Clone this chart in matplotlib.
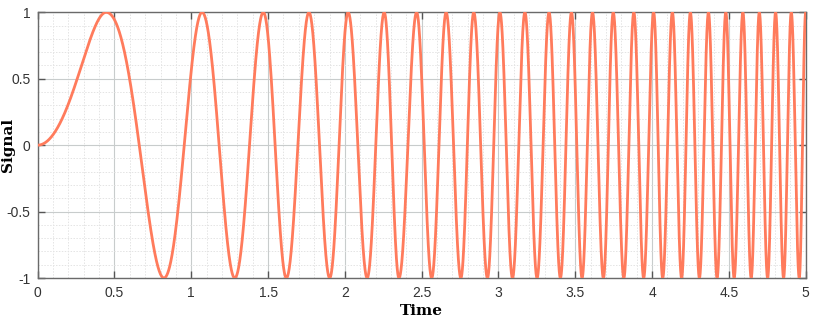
import numpy as np
import matplotlib
matplotlib.use("Agg")
import matplotlib.pyplot as plt
from matplotlib.ticker import MultipleLocator, FormatStrFormatter

# times of the maxima (+1) and minima (-1)
peak_times = [0.446, 1.070, 1.469, 1.766, 2.021, 2.256, 2.467, 2.659, 2.839,
              3.009, 3.172, 3.329, 3.475, 3.612, 3.747, 3.881, 4.010, 4.132,
              4.249, 4.367, 4.480, 4.591, 4.698, 4.804, 4.906, 5.000]
trough_times = [0.822, 1.283, 1.619, 1.901, 2.145, 2.352, 2.565, 2.755, 2.928,
                3.091, 3.251, 3.403, 3.544, 3.683, 3.816, 3.945, 4.069, 4.192,
                4.308, 4.423, 4.534, 4.645, 4.752, 4.856, 4.958]
x_ticks = [0, 0.5, 1, 1.5, 2, 2.5, 3, 3.5, 4, 4.5, 5]
y_ticks = [-1, -0.5, 0, 0.5, 1]

# signal starts at zero, then each extremum is a half turn further on
ext_t = np.sort(np.array([0.0] + peak_times + trough_times))
ext_phase = np.pi / 2 * np.r_[0, 1 + 2 * np.arange(len(ext_t) - 1)]
t = np.linspace(0, 5, 6000)
signal = np.sin(np.interp(t ** 2, ext_t ** 2, ext_phase))

plt.rcParams["axes.unicode_minus"] = False
fig = plt.figure(figsize=(8.14, 3.25), dpi=100)
ax = fig.add_axes([0.0463, 0.1446, 0.9435, 0.8175])

ax.plot(t, signal, color="#ff7b5c", lw=2.0, zorder=3)

ax.set_xlim(0, 5)
ax.set_ylim(-1, 1)
ax.set_xticks(x_ticks)
ax.set_yticks(y_ticks)
ax.xaxis.set_major_formatter(FormatStrFormatter("%g"))
ax.yaxis.set_major_formatter(FormatStrFormatter("%g"))
ax.xaxis.set_minor_locator(MultipleLocator(0.1))
ax.yaxis.set_minor_locator(MultipleLocator(0.1))

ax.grid(which="major", color="#c8cccc", lw=0.8, ls="-")
ax.grid(which="minor", color="#e4e4e4", lw=0.7, ls=(0, (1.5, 1.5)))
ax.tick_params(which="major", direction="in", length=5, width=1, color="#555555",
               top=True, right=True, labelsize=10, labelcolor="#333333")
ax.tick_params(which="minor", length=0)
ax.tick_params(axis="x", pad=6)
ax.tick_params(axis="y", pad=5)
for lab in ax.get_xticklabels() + ax.get_yticklabels():
    lab.set_family("Liberation Sans")
for s in ax.spines.values():
    s.set_color("#6a6a6a")
    s.set_linewidth(1.0)

ax.set_xlabel("Time", family="DejaVu Serif", fontweight="bold", fontsize=11)
ax.set_ylabel("Signal", family="DejaVu Serif", fontweight="bold", fontsize=11)
ax.xaxis.set_label_coords(0.5, -0.098)
ax.yaxis.set_label_coords(-0.0296, 0.5)

fig.savefig("out.png", dpi=100)
